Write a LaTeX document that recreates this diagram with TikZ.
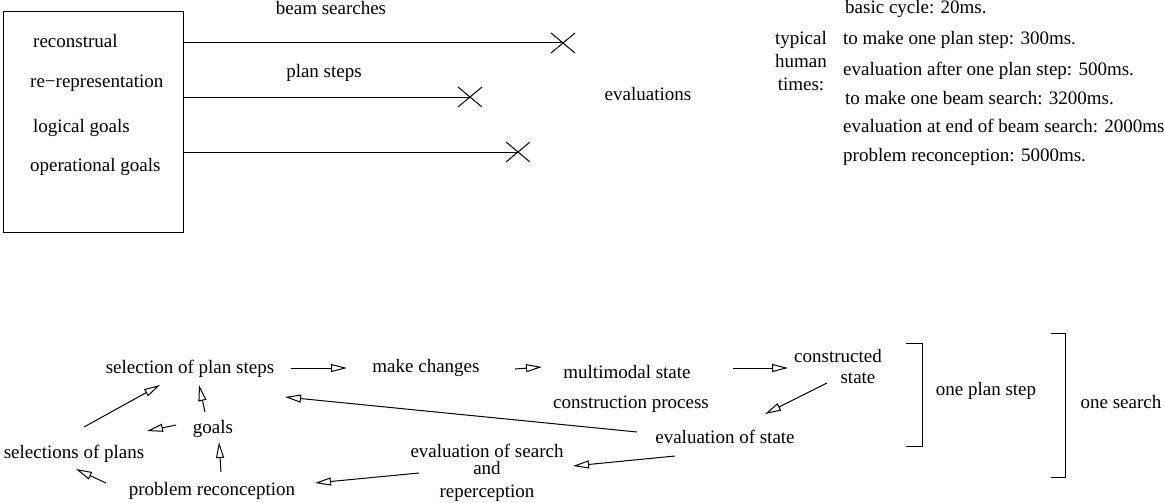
\documentclass[tikz,border=0pt]{standalone}
\usepackage{fontspec}
\setmainfont{Liberation Serif}
\usetikzlibrary{arrows.meta,calc}
\newcommand\xmarkat[1]{\draw[ln] ($(#1)+(-12,-10)$) -- ($(#1)+(12,10)$); \draw[ln] ($(#1)+(-12,10)$) -- ($(#1)+(12,-10)$);}
\begin{document}
\begin{tikzpicture}[x=1pt,y=-1pt,
  every node/.style={font=\fontsize{19}{23}\selectfont, inner sep=0pt, text height=13pt, text depth=4pt},
  ln/.style={line width=1pt},
  oarrow/.style={line width=1pt, -{Triangle[open,length=16pt,width=8pt,line width=1pt]}},
]
\useasboundingbox (0,0) rectangle (1164,503);

% top part
\node[draw, line width=1pt, minimum width=180pt, minimum height=220pt, text height=, text depth=] (box) at (93,122) {};
\node[anchor=west] (t1) at (33,43) {reconstrual};
\node[anchor=west] (t2) at (30,83) {re−representation};
\node[anchor=west] (t3) at (33,128) {logical goals};
\node[anchor=west] (t4) at (30,167) {operational goals};

\node (bs) at (331,10) {beam searches};
\node (ps) at (324,73) {plan steps};

\coordinate (x1) at (563,43);
\coordinate (x2) at (470,97);
\coordinate (x3) at (518,152);
\draw[ln] (box.east |- x1) -- (x1);
\draw[ln] (box.east |- x2) -- (x2);
\draw[ln] (box.east |- x3) -- (x3);
\xmarkat{x1}
\xmarkat{x2}
\xmarkat{x3}

\node (ev) at (648,96) {evaluations};
\node (typ1) at (801,40) {typical};
\node (typ2) at (801,63) {human};
\node (typ3) at (801,86) {times:};

\node[anchor=west] (r1) at (845,9) {basic cycle: 20ms.};
\node[anchor=west] (r2) at (843,40) {to make one plan step: 300ms.};
\node[anchor=west] (r3) at (843,71) {evaluation after one plan step: 500ms.};
\node[anchor=west] (r4) at (845,100) {to make one beam search: 3200ms.};
\node[anchor=west] (r5) at (843,128) {evaluation at end of beam search: 2000ms};
\node[anchor=west] (r6) at (843,157) {problem reconception: 5000ms.};

% bottom part
\node (sps) at (190,369) {selection of plan steps};
\node (mc) at (426,368) {make changes};
\node (ms) at (627,374) {multimodal state};
\node (cs1) at (838,358) {constructed};
\node (cs2) at (858,379) {state};
\node (cp) at (631,404) {construction process};
\node (es) at (725,439) {evaluation of state};
\node (esr1) at (487,453) {evaluation of search};
\node (esr2) at (487,470) {and};
\node (esr3) at (487,493) {reperception};
\node (pr) at (212,491) {problem reconception};
\node (goals) at (213,429) {goals};
\node (sp) at (74,454) {selections of plans};
\node (ops) at (986,391) {one plan step};
\node (osr) at (1121,404) {one search};

\draw[oarrow] ([shift={(101,-1)}]sps.center) -- ([shift={(-79,0)}]mc.center);
\draw[oarrow] ([shift={(89,1)}]mc.center) -- ([shift={(-85,-7)}]ms.center);
\draw[oarrow] ([shift={(106,-6)}]ms.center) -- ([shift={(-50,10)}]cs1.center);
\draw[oarrow] ([shift={(-31,4)}]cs2.center) -- ([shift={(40,-25)}]es.center);
\draw[oarrow] ([shift={(-88,-7)}]es.center) -- ([shift={(95,28)}]sps.center);
\draw[oarrow] ([shift={(-50,17)}]es.center) -- ([shift={(86,-4)}]esr2.center);
\draw[oarrow] ([shift={(-68,3)}]esr2.center) -- ([shift={(103,-8)}]pr.center);
\draw[oarrow] ([shift={(9,-19)}]pr.center) -- ([shift={(6,13)}]goals.center);
\draw[oarrow] ([shift={(-106,-8)}]pr.center) -- ([shift={(2,15)}]sp.center);
\draw[oarrow] ([shift={(-37,-4)}]goals.center) -- ([shift={(73,-23)}]sp.center);
\draw[oarrow] ([shift={(-8,-17)}]goals.center) -- ([shift={(9,16)}]sps.center);
\draw[oarrow] ([shift={(10,-27)}]sp.center) -- ([shift={(-30,16)}]sps.center);

% brackets
\draw[ln] (906,343) -- (922,343) -- (922,446) -- (906,446);
\draw[ln] (1051,333) -- (1065,333) -- (1065,477) -- (1051,477);
\end{tikzpicture}
\end{document}
